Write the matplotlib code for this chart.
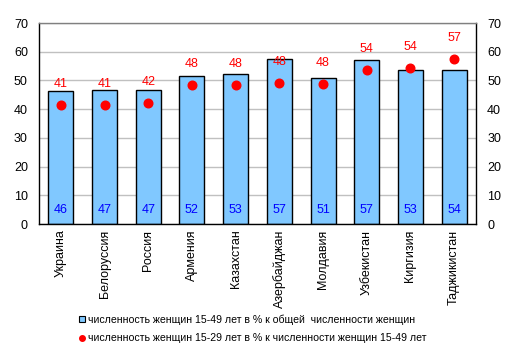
import matplotlib
matplotlib.use("Agg")
import matplotlib.pyplot as plt
from matplotlib.lines import Line2D
import numpy as np

plt.rcParams['font.family'] = ['Liberation Sans', 'DejaVu Sans']

countries = ["Украина", "Белоруссия", "Россия", "Армения", "Казахстан",
             "Азербайджан", "Молдавия", "Узбекистан", "Киргизия", "Таджикистан"]
bar_values = [46.2, 46.5, 46.8, 51.7, 52.4, 57.3, 51.0, 57.0, 53.5, 53.5]
bar_labels = ["46", "47", "47", "52", "53", "57", "51", "57", "53", "54"]
dot_values = [41.5, 41.5, 42.2, 48.5, 48.5, 49.0, 48.8, 53.8, 54.5, 57.6]
dot_labels = ["41", "41", "42", "48", "48", "48", "48", "54", "54", "57"]
legend_bar = "численность женщин 15-49 лет в % к общей  численности женщин"
legend_dot = "численность женщин 15-29 лет в % к численности женщин 15-49 лет"
yticks = [0, 10, 20, 30, 40, 50, 60, 70]

fig = plt.figure(figsize=(5.14, 3.54), dpi=100)
ax = fig.add_axes([39/514, 1 - 224/354, (476-39)/514, (224-23)/354])
x = np.arange(len(countries))

ax.set_axisbelow(True)
ax.yaxis.grid(True, color='#c0c0c0', linewidth=1)
ax.bar(x, bar_values, width=0.57, color='#80c8ff', edgecolor='black', linewidth=1, zorder=2)
ax.plot(x, dot_values, 'o', color='#ff0000', markersize=6.2, zorder=3, linestyle='none')

for xi, lab in zip(x, bar_labels):
    ax.text(xi, 5, lab, ha='center', va='center', color='#0000ff', fontsize=9, zorder=4)
for xi, v, lab in zip(x, dot_values, dot_labels):
    ax.annotate(lab, (xi, v), xytext=(0, 21), textcoords='offset pixels',
                ha='center', va='center', color='#ff0000', fontsize=9, zorder=4)

ax.set_xlim(-0.5, len(countries) - 0.5)
ax.set_ylim(0, 70)
ax.set_yticks(yticks)
ax.set_xticks(x)
ax.set_xticklabels(countries, rotation=90, fontsize=9)
ax.tick_params(axis='x', length=0, pad=4)
ax.tick_params(axis='y', length=0, labelsize=9, pad=8, right=True, labelright=True)

for side in ['left', 'right', 'bottom']:
    ax.spines[side].set_color('black')
    ax.spines[side].set_linewidth(1)
ax.spines['top'].set_color('#808080')
ax.spines['top'].set_linewidth(1)

handles = [
    Line2D([], [], marker='s', linestyle='none', markerfacecolor='#80c8ff',
           markeredgecolor='black', markersize=5, markeredgewidth=0.8),
    Line2D([], [], marker='o', linestyle='none', color='#ff0000', markersize=4),
]
fig.legend(handles, [legend_bar, legend_dot], loc='center', bbox_to_anchor=(0.492, 1 - 329/354),
           frameon=False, fontsize=7.6, handlelength=0.6, handletextpad=0.3,
           labelspacing=0.8, borderpad=0)

fig.savefig("out.png", dpi=100)
